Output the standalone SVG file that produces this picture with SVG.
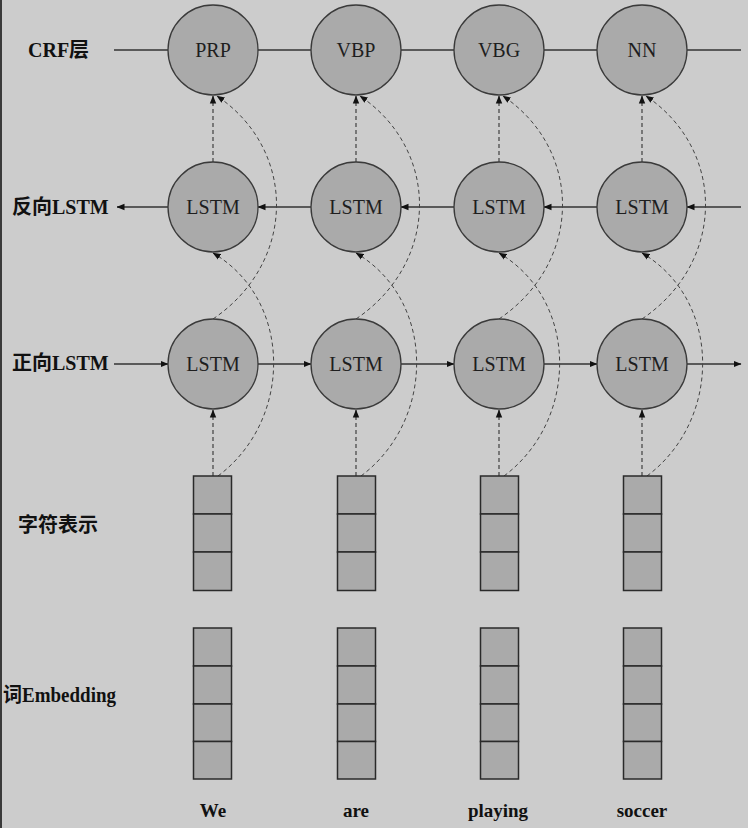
<svg xmlns="http://www.w3.org/2000/svg" width="748" height="828" viewBox="0 0 748 828">
<style>
.node{fill:#aaaaaa;stroke:#3a3a3a;stroke-width:1.3}
.cell{fill:#aaaaaa;stroke:#2a2a2a;stroke-width:1.5}
.ntxt{font-family:"Liberation Serif","Noto Sans CJK SC",serif;font-size:20px;fill:#1e1e1e;text-anchor:middle}
.lbl{font-family:"Liberation Serif","Noto Sans CJK SC",serif;font-size:20px;font-weight:bold;fill:#111}
.word{font-family:"Liberation Serif",serif;font-size:19px;font-weight:bold;fill:#111;text-anchor:middle}
.solid{stroke:#333;stroke-width:1.3;fill:none}
.dash{stroke:#333;stroke-width:1.1;fill:none;stroke-dasharray:4 3}
.dashc{stroke:#444;stroke-width:1;fill:none;stroke-dasharray:4 3}
</style>
<defs>
<marker id="ah" viewBox="0 0 8 8" refX="7.5" refY="4" markerWidth="8" markerHeight="8" markerUnits="userSpaceOnUse" orient="auto">
<path d="M0,0.8 L8,4 L0,7.2 Z" fill="#111"/>
</marker>
</defs>
<rect x="0" y="0" width="748" height="828" fill="#cccccc"/>
<rect x="0" y="0" width="2" height="828" fill="#3a3a3a"/>

<g id="labels">
<text class="lbl" x="28" y="57">CRF层</text>
<text class="lbl" x="12" y="214">反向LSTM</text>
<text class="lbl" x="12" y="370">正向LSTM</text>
<text class="lbl" x="18" y="532">字符表示</text>
<text class="lbl" x="3" y="702" textLength="113" lengthAdjust="spacingAndGlyphs">词Embedding</text>
</g>

<g id="connectors">
<!-- CRF line -->
<line class="solid" x1="114" y1="50" x2="741" y2="50"/>
<!-- backward LSTM -->
<line class="solid" x1="741" y1="207" x2="687" y2="207" marker-end="url(#ah)"/>
<line class="solid" x1="597" y1="207" x2="544" y2="207" marker-end="url(#ah)"/>
<line class="solid" x1="454" y1="207" x2="401" y2="207" marker-end="url(#ah)"/>
<line class="solid" x1="311" y1="207" x2="258" y2="207" marker-end="url(#ah)"/>
<line class="solid" x1="168" y1="207" x2="117" y2="207" marker-end="url(#ah)"/>
<!-- forward LSTM -->
<line class="solid" x1="114" y1="364" x2="168" y2="364" marker-end="url(#ah)"/>
<line class="solid" x1="258" y1="364" x2="311" y2="364" marker-end="url(#ah)"/>
<line class="solid" x1="401" y1="364" x2="454" y2="364" marker-end="url(#ah)"/>
<line class="solid" x1="544" y1="364" x2="597" y2="364" marker-end="url(#ah)"/>
<line class="solid" x1="687" y1="364" x2="741" y2="364" marker-end="url(#ah)"/>
<!-- column dashed connectors -->
<g id="col1c">
<line class="dash" x1="213" y1="162" x2="213" y2="96" marker-end="url(#ah)"/>
<line class="dash" x1="213" y1="476" x2="213" y2="410" marker-end="url(#ah)"/>
<path class="dashc" d="M218,476 C293,420 293,300 213,253" marker-end="url(#ah)"/>
<path class="dashc" d="M213,319 C297,262 297,150 217,96" marker-end="url(#ah)"/>
</g>
<g id="col2c">
<line class="dash" x1="356" y1="162" x2="356" y2="96" marker-end="url(#ah)"/>
<line class="dash" x1="356" y1="476" x2="356" y2="410" marker-end="url(#ah)"/>
<path class="dashc" d="M361,476 C436,420 436,300 356,253" marker-end="url(#ah)"/>
<path class="dashc" d="M356,319 C440,262 440,150 360,96" marker-end="url(#ah)"/>
</g>
<g id="col3c">
<line class="dash" x1="499" y1="162" x2="499" y2="96" marker-end="url(#ah)"/>
<line class="dash" x1="499" y1="476" x2="499" y2="410" marker-end="url(#ah)"/>
<path class="dashc" d="M504,476 C579,420 579,300 499,253" marker-end="url(#ah)"/>
<path class="dashc" d="M499,319 C583,262 583,150 503,96" marker-end="url(#ah)"/>
</g>
<g id="col4c">
<line class="dash" x1="642" y1="162" x2="642" y2="96" marker-end="url(#ah)"/>
<line class="dash" x1="642" y1="476" x2="642" y2="410" marker-end="url(#ah)"/>
<path class="dashc" d="M647,476 C722,420 722,300 642,253" marker-end="url(#ah)"/>
<path class="dashc" d="M642,319 C726,262 726,150 646,96" marker-end="url(#ah)"/>
</g>
</g>

<g id="crf1"><circle class="node" cx="213" cy="50" r="45"/><text class="ntxt" x="213" y="56.5">PRP</text></g>
<g id="crf2"><circle class="node" cx="356" cy="50" r="45"/><text class="ntxt" x="356" y="56.5">VBP</text></g>
<g id="crf3"><circle class="node" cx="499" cy="50" r="45"/><text class="ntxt" x="499" y="56.5">VBG</text></g>
<g id="crf4"><circle class="node" cx="642" cy="50" r="45"/><text class="ntxt" x="642" y="56.5">NN</text></g>

<g id="bw1"><circle class="node" cx="213" cy="207" r="45"/><text class="ntxt" x="213" y="213.5">LSTM</text></g>
<g id="bw2"><circle class="node" cx="356" cy="207" r="45"/><text class="ntxt" x="356" y="213.5">LSTM</text></g>
<g id="bw3"><circle class="node" cx="499" cy="207" r="45"/><text class="ntxt" x="499" y="213.5">LSTM</text></g>
<g id="bw4"><circle class="node" cx="642" cy="207" r="45"/><text class="ntxt" x="642" y="213.5">LSTM</text></g>

<g id="fw1"><circle class="node" cx="213" cy="364" r="45"/><text class="ntxt" x="213" y="370.5">LSTM</text></g>
<g id="fw2"><circle class="node" cx="356" cy="364" r="45"/><text class="ntxt" x="356" y="370.5">LSTM</text></g>
<g id="fw3"><circle class="node" cx="499" cy="364" r="45"/><text class="ntxt" x="499" y="370.5">LSTM</text></g>
<g id="fw4"><circle class="node" cx="642" cy="364" r="45"/><text class="ntxt" x="642" y="370.5">LSTM</text></g>

<g id="char1"><rect class="cell" x="193.5" y="476" width="38" height="38"/><rect class="cell" x="193.5" y="514" width="38" height="38"/><rect class="cell" x="193.5" y="552" width="38" height="38.5"/></g>
<g id="char2"><rect class="cell" x="337.5" y="476" width="38" height="38"/><rect class="cell" x="337.5" y="514" width="38" height="38"/><rect class="cell" x="337.5" y="552" width="38" height="38.5"/></g>
<g id="char3"><rect class="cell" x="480.5" y="476" width="38" height="38"/><rect class="cell" x="480.5" y="514" width="38" height="38"/><rect class="cell" x="480.5" y="552" width="38" height="38.5"/></g>
<g id="char4"><rect class="cell" x="623.5" y="476" width="38" height="38"/><rect class="cell" x="623.5" y="514" width="38" height="38"/><rect class="cell" x="623.5" y="552" width="38" height="38.5"/></g>

<g id="emb1"><rect class="cell" x="193.5" y="628" width="38" height="38"/><rect class="cell" x="193.5" y="666" width="38" height="38"/><rect class="cell" x="193.5" y="704" width="38" height="37.5"/><rect class="cell" x="193.5" y="741.5" width="38" height="37.5"/></g>
<g id="emb2"><rect class="cell" x="337.5" y="628" width="38" height="38"/><rect class="cell" x="337.5" y="666" width="38" height="38"/><rect class="cell" x="337.5" y="704" width="38" height="37.5"/><rect class="cell" x="337.5" y="741.5" width="38" height="37.5"/></g>
<g id="emb3"><rect class="cell" x="480.5" y="628" width="38" height="38"/><rect class="cell" x="480.5" y="666" width="38" height="38"/><rect class="cell" x="480.5" y="704" width="38" height="37.5"/><rect class="cell" x="480.5" y="741.5" width="38" height="37.5"/></g>
<g id="emb4"><rect class="cell" x="623.5" y="628" width="38" height="38"/><rect class="cell" x="623.5" y="666" width="38" height="38"/><rect class="cell" x="623.5" y="704" width="38" height="37.5"/><rect class="cell" x="623.5" y="741.5" width="38" height="37.5"/></g>

<g id="words">
<text class="word" x="213" y="817">We</text>
<text class="word" x="356" y="817">are</text>
<text class="word" x="498" y="817">playing</text>
<text class="word" x="642" y="817">soccer</text>
</g>
</svg>
